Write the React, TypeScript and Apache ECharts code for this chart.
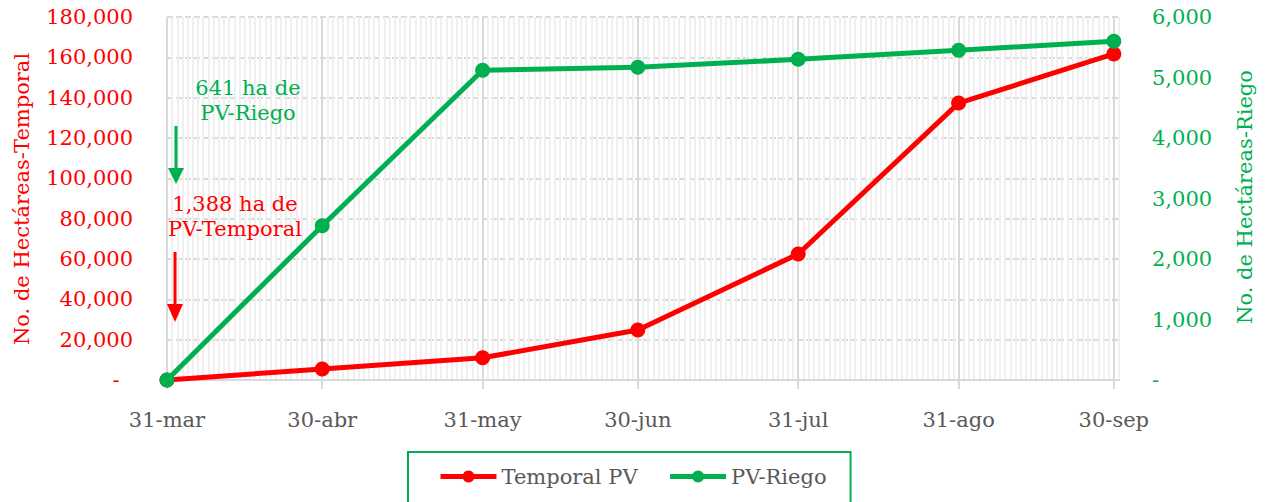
import React, { useEffect, useRef } from "react";
import * as echarts from "echarts";

const isoDates = ["2021-03-31", "2021-04-30", "2021-05-31", "2021-06-30", "2021-07-31", "2021-08-31", "2021-09-30"];
const dateLabels = ["31-mar", "30-abr", "31-may", "30-jun", "31-jul", "31-ago", "30-sep"];
const temporalPV = [0, 5500, 11000, 24800, 62500, 137300, 161700];
const pvRiego = [0, 2550, 5120, 5170, 5300, 5450, 5600];
const leftTicks = { min: 0, max: 180000, interval: 20000 };
const rightTicks = { min: 0, max: 6000, interval: 1000 };

const RED = "#ff0000";
const GREEN = "#00b050";
const GREY = "#595959";
const FONT = "DejaVu Serif";
const FS = 21;

const DAY = 86400000;
const start = Date.parse(isoDates[0]);
const offsets = isoDates.map((d) => Math.round((Date.parse(d) - start) / DAY));
const xMax = offsets[offsets.length - 1] + 1;

const fmt = (v: number) => (v === 0 ? "-" : v.toLocaleString("en-US"));

export default function App() {
  const ref = useRef<HTMLDivElement>(null);
  useEffect(() => {
    document.body.style.margin = "0";
    const chart = echarts.init(ref.current!, null, { renderer: "svg" });
    const labelMap: Record<number, string> = {};
    offsets.forEach((o, i) => (labelMap[o] = dateLabels[i]));
    const txt = (x: number, y: number, text: string, fill: string, rotation = 0) => ({
      type: "text",
      x,
      y,
      z: 100,
      rotation,
      style: { text, fill, font: `${FS}px "${FONT}"`, align: "center", verticalAlign: "middle", lineWidth: 0 },
    });
    chart.setOption({
      animation: false,
      textStyle: { fontFamily: FONT },
      grid: { left: 167, right: 148, top: 17, bottom: 122 },
      legend: {
        left: 408,
        top: 452,
        borderColor: GREEN,
        borderWidth: 2,
        padding: [14, 24, 40, 30],
        itemWidth: 56,
        itemHeight: 15,
        itemGap: 30,
        lineStyle: { width: 5 },
        textStyle: { color: GREY, fontSize: FS, fontFamily: FONT },
        data: ["Temporal PV", "PV-Riego"],
      },
      xAxis: [
        {
          type: "value",
          min: 0,
          max: xMax,
          interval: 1,
          axisLine: { show: true, lineStyle: { color: "#d9d9d9", width: 2 } },
          axisTick: { show: false },
          axisLabel: { show: false },
          splitLine: { show: true, lineStyle: { color: "#efefef", width: 2 } },
        },
        {
          type: "value",
          min: 0,
          max: xMax,
          position: "bottom",
          axisLine: { show: false },
          axisTick: { show: true, customValues: offsets, length: 9, lineStyle: { color: "#d9d9d9", width: 2 } },
          axisLabel: {
            show: true,
            customValues: offsets,
            formatter: (v: number) => labelMap[v] ?? "",
            color: GREY,
            fontSize: FS,
            margin: 29,
            fontFamily: FONT,
          },
          splitLine: { show: false },
        },
      ],
      yAxis: [
        {
          type: "value",
          ...leftTicks,
          position: "left",
          axisLine: { show: false },
          axisTick: { show: false },
          axisLabel: { color: RED, fontSize: FS, margin: 34, formatter: (v: number) => (v === 0 ? "-\u2007" : fmt(v)), fontFamily: FONT },
          splitLine: { show: true, lineStyle: { color: "#d9d9d9", width: 2, type: [6, 3] } },
        },
        {
          type: "value",
          ...rightTicks,
          position: "right",
          axisLine: { show: false },
          axisTick: { show: false },
          axisLabel: { color: GREEN, fontSize: FS, margin: 33, formatter: fmt, fontFamily: FONT },
          splitLine: { show: false },
        },
      ],
      graphic: [
        txt(22, 199, "No. de Hectáreas-Temporal", RED, Math.PI / 2),
        txt(1245, 197, "No. de Hectáreas-Riego", GREEN, Math.PI / 2),
        txt(248, 88, "641 ha de", GREEN),
        txt(248, 113, "PV-Riego", GREEN),
        txt(235, 204, "1,388 ha de", RED),
        txt(235, 229, "PV-Temporal", RED),
        { type: "line", z: 100, shape: { x1: 176, y1: 126, x2: 176, y2: 170 }, style: { stroke: GREEN, lineWidth: 3 } },
        { type: "polygon", z: 100, shape: { points: [[168, 168], [184, 168], [176, 184]] }, style: { fill: GREEN } },
        { type: "line", z: 100, shape: { x1: 175, y1: 252, x2: 175, y2: 306 }, style: { stroke: RED, lineWidth: 3 } },
        { type: "polygon", z: 100, shape: { points: [[167, 304], [183, 304], [175, 322]] }, style: { fill: RED } },
      ],
      series: [
        {
          name: "Temporal PV",
          type: "line",
          xAxisIndex: 0,
          yAxisIndex: 0,
          data: offsets.map((o, i) => [o, temporalPV[i]]),
          symbol: "circle",
          symbolSize: 15,
          lineStyle: { color: RED, width: 5 },
          itemStyle: { color: RED },
          z: 3,
          markLine: {
            silent: true,
            symbol: "none",
            label: { show: false },
            lineStyle: { color: "#d9d9d9", width: 2, type: "solid" },
            data: offsets.map((o) => ({ xAxis: o })),
            z: 1,
          },
        },
        {
          name: "PV-Riego",
          type: "line",
          xAxisIndex: 0,
          yAxisIndex: 1,
          data: offsets.map((o, i) => [o, pvRiego[i]]),
          symbol: "circle",
          symbolSize: 15,
          lineStyle: { color: GREEN, width: 5 },
          itemStyle: { color: GREEN },
          z: 4,
        },
      ],
    });
    return () => chart.dispose();
  }, []);
  return <div ref={ref} style={{ width: 1267, height: 502 }} />;
}
